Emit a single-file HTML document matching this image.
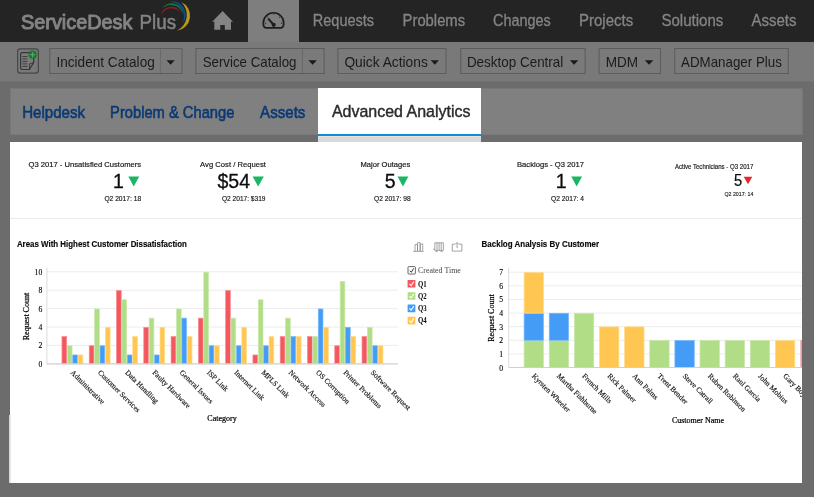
<!DOCTYPE html>
<html><head><meta charset="utf-8"><title>ServiceDesk Plus</title>
<style>
*{box-sizing:border-box;margin:0;padding:0}
html,body{width:814px;height:497px;overflow:hidden;background:#6c6c6c;font-family:"Liberation Sans",sans-serif}
#root{position:relative;width:814px;height:497px;overflow:hidden;background:#6c6c6c}
.abs{position:absolute}
#topbar{left:0;top:0;width:814px;height:41.6px;background:#242424}
#dashtab{left:248px;top:0;width:51px;height:42px;background:#7e7e7e}
#toolbar{left:0;top:41.6px;width:814px;height:40.6px;background:#797979;border-bottom:1px solid #727272}
#gap{display:none}
#tabs{left:10.4px;top:87.6px;width:792.6px;height:47.5px;background:#808080;border:1px solid #777;border-bottom:1.5px solid #797979}
#atab{left:317.8px;top:88px;width:163.4px;height:54px;background:#d9d9d9}
#atabw{left:317.8px;top:87.6px;width:163.4px;height:46.4px;background:#fff;border-bottom:0}
#atabl{left:317.8px;top:133.6px;width:163.4px;height:2.2px;background:#0d8edb;box-shadow:0 1px 0 #eee0da}
#panel{left:9.8px;top:141.6px;width:792.2px;height:341.4px;background:#fff}
#pstrip{left:9px;top:415px;width:1.8px;height:68px;background:linear-gradient(90deg,#cfcfcf,#f2f2f2)}
svg text{font-family:"Liberation Serif",serif}
svg text.s{font-family:"Liberation Sans",sans-serif}
.ax{font-size:7.7px;fill:#000;stroke:#000;stroke-width:0.12px}
.at{font-size:8px;fill:#000;stroke:#000;stroke-width:0.22px}
.xl{font-size:7.5px;fill:#111;stroke:#111;stroke-width:0.15px}
.lg{font-size:8.2px;fill:#222}
.ct{font-family:"Liberation Sans",sans-serif !important;font-weight:bold;font-size:8.4px;fill:#0a0a0a;stroke:#0a0a0a;stroke-width:0.15px}
</style></head><body>
<div id="root">
<div id="topbar" class="abs"></div>
<div id="dashtab" class="abs"></div>
<div id="toolbar" class="abs"></div>
<div id="gap" class="abs"></div>
<div id="tabs" class="abs"></div>
<div id="atab" class="abs"></div>
<div id="atabw" class="abs"></div>
<div id="atabl" class="abs"></div>
<div id="panel" class="abs"></div>
<div id="pstrip" class="abs"></div>
<div class="abs" style="left:10px;top:218px;width:792px;height:1px;background:#ececec"></div>

<svg class="abs" style="left:0;top:0;will-change:transform" width="814" height="497" viewBox="0 0 814 497">
<!-- logo swoosh -->
<path d="M160.6 15.8 A10.6 10.6 0 0 1 180.5 12.6 A11.8 11.8 0 0 0 160.6 15.8 Z" fill="#90192b"/>
<path d="M162.1 8.8 A11.1 11.1 0 0 1 182.8 14.8 A12.1 12.1 0 0 0 162.1 8.8 Z" fill="#0f7a3c"/>
<path d="M169.9 1.4 A13.6 13.6 0 0 1 182.6 23.4 A15.6 15.6 0 0 0 169.9 1.4 Z" fill="#0f4c8c"/>
<path d="M181.2 2 A15.1 15.1 0 0 1 177 30.7 A17.6 17.6 0 0 0 181.2 2 Z" fill="#b99b1c"/>
<!-- home -->
<path d="M222.6 11 L212.2 21.7 H214.3 V29.7 H220.3 V25 H224.8 V29.7 H231 V21.7 H233 Z" fill="#848484"/>
<!-- gauge -->
<path d="M265.4 27.8 Q263.1 26.6 263.3 22.95 A10.2 10.2 0 0 1 283.7 22.95 Q283.9 26.6 281.6 27.8 Z" fill="none" stroke="#1d1d1d" stroke-width="1.7" stroke-linejoin="round"/>
<path d="M268.2 18.7 L273.4 24.5" stroke="#1d1d1d" stroke-width="2" fill="none"/>
<circle cx="273.7" cy="24.8" r="2.1" fill="#1d1d1d"/>
<g fill="#2a2a2a"><circle cx="265.8" cy="23.2" r="0.6"/><circle cx="267.6" cy="17" r="0.6"/><circle cx="273.7" cy="14" r="0.6"/><circle cx="279.6" cy="17.2" r="0.6"/><circle cx="281.5" cy="23.2" r="0.6"/></g>
<!-- new-request icon -->
<rect x="17.6" y="48.8" width="20.8" height="24.3" rx="2.6" fill="#797979" stroke="#474747" stroke-width="1.2"/>
<path d="M22.3 52.6 H31.5 Q33.7 52.6 33.7 54.8 V62.4 L29.4 69.5 H22.3 Q20.6 69.5 20.6 67.6 V54.4 Q20.6 52.6 22.3 52.6 Z" fill="#7c7c7c" stroke="#363636" stroke-width="1.2" stroke-linejoin="round"/>
<path d="M33.5 62.6 L29.6 63.8 L29.4 69.2" fill="none" stroke="#363636" stroke-width="0.9"/>
<path d="M22.4 56.5 h5 M22.4 58.9 h5 M22.4 61.4 h5 M22.4 63.9 h5 M22.4 66.4 h5" stroke="#3d3d3d" stroke-width="1"/>
<circle cx="32.6" cy="54.7" r="4.1" fill="#17792d"/>
<path d="M32.6 52 v5.4 M29.9 54.7 h5.4" stroke="#4ea562" stroke-width="1.3"/>
<!-- buttons -->
<rect x="49.8" y="48.5" width="132.2" height="25" fill="#7a7a7a" stroke="#5c5c5c" stroke-width="1"/><line x1="160.4" y1="49" x2="160.4" y2="73" stroke="#686868" stroke-width="1"/><path d="M166.5 60.2 H174.7 L170.60 64.7 Z" fill="#1b1b1b"/>
<rect x="195.9" y="48.5" width="128.20000000000002" height="25" fill="#7a7a7a" stroke="#5c5c5c" stroke-width="1"/><line x1="302.5" y1="49" x2="302.5" y2="73" stroke="#686868" stroke-width="1"/><path d="M308.4 60.2 H316.8 L312.60 64.7 Z" fill="#1b1b1b"/>
<rect x="337.9" y="48.5" width="108.10000000000002" height="25" fill="#7a7a7a" stroke="#5c5c5c" stroke-width="1"/><path d="M430.7 60.2 H438.9 L434.80 64.7 Z" fill="#1b1b1b"/>
<rect x="460.8" y="48.5" width="124.30000000000001" height="25" fill="#7a7a7a" stroke="#5c5c5c" stroke-width="1"/><path d="M569.9 60.2 H578.3 L574.10 64.7 Z" fill="#1b1b1b"/>
<rect x="599.1" y="48.5" width="61.39999999999998" height="25" fill="#7a7a7a" stroke="#5c5c5c" stroke-width="1"/><path d="M644.8 60.2 H653.3 L649.05 64.7 Z" fill="#1b1b1b"/>
<rect x="674.7" y="48.5" width="113.5" height="25" fill="#7a7a7a" stroke="#5c5c5c" stroke-width="1"/>
<text x="21.00" y="28.70" font-size="20.6" fill="#848484" textLength="111.40" lengthAdjust="spacingAndGlyphs" class="s" stroke="#848484" stroke-width="1.0" stroke-linejoin="round">ServiceDesk</text>
<text x="139.60" y="28.70" font-size="20.6" fill="#848484" textLength="36.50" lengthAdjust="spacingAndGlyphs" class="s" stroke="#848484" stroke-width="0.5">Plus</text>
<text x="312.80" y="25.60" font-size="16" fill="#858585" textLength="61.30" lengthAdjust="spacingAndGlyphs" class="s" stroke="#858585" stroke-width="0.3">Requests</text>
<text x="402.60" y="25.60" font-size="16" fill="#858585" textLength="62.50" lengthAdjust="spacingAndGlyphs" class="s" stroke="#858585" stroke-width="0.3">Problems</text>
<text x="493.00" y="25.60" font-size="16" fill="#858585" textLength="57.80" lengthAdjust="spacingAndGlyphs" class="s" stroke="#858585" stroke-width="0.3">Changes</text>
<text x="579.00" y="25.60" font-size="16" fill="#858585" textLength="54.20" lengthAdjust="spacingAndGlyphs" class="s" stroke="#858585" stroke-width="0.3">Projects</text>
<text x="661.40" y="25.60" font-size="16" fill="#858585" textLength="61.90" lengthAdjust="spacingAndGlyphs" class="s" stroke="#858585" stroke-width="0.3">Solutions</text>
<text x="751.40" y="25.60" font-size="16" fill="#858585" textLength="45.10" lengthAdjust="spacingAndGlyphs" class="s" stroke="#858585" stroke-width="0.3">Assets</text>
<text x="56.40" y="66.60" font-size="14.5" fill="#1b1b1b" textLength="98.40" lengthAdjust="spacingAndGlyphs" class="s" >Incident Catalog</text>
<text x="202.70" y="66.60" font-size="14.5" fill="#1b1b1b" textLength="93.80" lengthAdjust="spacingAndGlyphs" class="s" >Service Catalog</text>
<text x="344.40" y="66.60" font-size="14.5" fill="#1b1b1b" textLength="83.40" lengthAdjust="spacingAndGlyphs" class="s" >Quick Actions</text>
<text x="466.90" y="66.60" font-size="14.5" fill="#1b1b1b" textLength="96.40" lengthAdjust="spacingAndGlyphs" class="s" >Desktop Central</text>
<text x="605.70" y="66.60" font-size="14.5" fill="#1b1b1b" textLength="32.40" lengthAdjust="spacingAndGlyphs" class="s" >MDM</text>
<text x="681.10" y="66.60" font-size="14.5" fill="#1b1b1b" textLength="100.70" lengthAdjust="spacingAndGlyphs" class="s" >ADManager Plus</text>
<text x="22.20" y="117.60" font-size="16.4" fill="#0b3974" textLength="62.90" lengthAdjust="spacingAndGlyphs" class="s" stroke="#0b3974" stroke-width="0.6">Helpdesk</text>
<text x="110.10" y="117.60" font-size="16.4" fill="#0b3974" textLength="124.30" lengthAdjust="spacingAndGlyphs" class="s" stroke="#0b3974" stroke-width="0.6">Problem &amp; Change</text>
<text x="260.10" y="117.60" font-size="16.4" fill="#0b3974" textLength="45.30" lengthAdjust="spacingAndGlyphs" class="s" stroke="#0b3974" stroke-width="0.6">Assets</text>
<text x="331.90" y="116.80" font-size="16.3" fill="#2a2a2a" textLength="138.60" lengthAdjust="spacingAndGlyphs" class="s" stroke="#2a2a2a" stroke-width="0.4">Advanced Analytics</text>
<defs><clipPath id="cp"><rect x="9" y="141" width="793" height="342"/></clipPath></defs>
<g clip-path="url(#cp)">
<text x="28.50" y="166.80" font-size="7.7" fill="#151515" textLength="112.60" lengthAdjust="spacingAndGlyphs" class="s" stroke="#151515" stroke-width="0.18">Q3 2017 - Unsatisfied Customers</text>
<text transform="translate(123.90,188.30) scale(0.94,1)" text-anchor="end" font-size="20.8" fill="#0c0c0c" class="s" stroke="#0c0c0c" stroke-width="0.3">1</text>
<text x="104.40" y="201.40" font-size="7.0" fill="#151515" textLength="36.70" lengthAdjust="spacingAndGlyphs" class="s" stroke="#151515" stroke-width="0.15">Q2 2017: 18</text>
<path d="M128.3 176.4 H139.2 L133.75 186.4 Z" fill="#19b763"/>
<text x="200.10" y="166.80" font-size="7.7" fill="#151515" textLength="65.80" lengthAdjust="spacingAndGlyphs" class="s" stroke="#151515" stroke-width="0.18">Avg Cost / Request</text>
<text transform="translate(250.10,188.30) scale(0.94,1)" text-anchor="end" font-size="20.8" fill="#0c0c0c" class="s" stroke="#0c0c0c" stroke-width="0.3">$54</text>
<text x="222.00" y="201.40" font-size="7.0" fill="#151515" textLength="43.50" lengthAdjust="spacingAndGlyphs" class="s" stroke="#151515" stroke-width="0.15">Q2 2017: $319</text>
<path d="M252.6 176.4 H263.8 L258.20 186.4 Z" fill="#19b763"/>
<text x="360.50" y="166.80" font-size="7.7" fill="#151515" textLength="49.80" lengthAdjust="spacingAndGlyphs" class="s" stroke="#151515" stroke-width="0.18">Major Outages</text>
<text transform="translate(395.50,188.30) scale(0.94,1)" text-anchor="end" font-size="20.8" fill="#0c0c0c" class="s" stroke="#0c0c0c" stroke-width="0.3">5</text>
<text x="374.00" y="201.40" font-size="7.0" fill="#151515" textLength="36.60" lengthAdjust="spacingAndGlyphs" class="s" stroke="#151515" stroke-width="0.15">Q2 2017: 98</text>
<path d="M397.5 176.4 H408.4 L402.95 186.4 Z" fill="#19b763"/>
<text x="517.00" y="166.80" font-size="7.7" fill="#151515" textLength="67.00" lengthAdjust="spacingAndGlyphs" class="s" stroke="#151515" stroke-width="0.18">Backlogs - Q3 2017</text>
<text transform="translate(566.70,188.30) scale(0.94,1)" text-anchor="end" font-size="20.8" fill="#0c0c0c" class="s" stroke="#0c0c0c" stroke-width="0.3">1</text>
<text x="551.10" y="201.40" font-size="7.0" fill="#151515" textLength="32.90" lengthAdjust="spacingAndGlyphs" class="s" stroke="#151515" stroke-width="0.15">Q2 2017: 4</text>
<path d="M571.2 176.4 H582.1 L576.65 186.4 Z" fill="#19b763"/>
<text x="674.90" y="168.80" font-size="6.4" fill="#151515" textLength="78.40" lengthAdjust="spacingAndGlyphs" class="s" stroke="#151515" stroke-width="0.15">Active Technicians - Q3 2017</text>
<text transform="translate(742.20,185.50) scale(0.94,1)" text-anchor="end" font-size="15.6" fill="#0c0c0c" class="s" stroke="#0c0c0c" stroke-width="0.25">5</text>
<text x="724.40" y="196.30" font-size="5.3" fill="#151515" textLength="29.00" lengthAdjust="spacingAndGlyphs" class="s" stroke="#151515" stroke-width="0.12">Q2 2017: 14</text>
<path d="M743.7 176.8 H752.3 L748.00 184.3 Z" fill="#e6262d"/>
<text x="16.9" y="246.7" class="ct" textLength="170" lengthAdjust="spacingAndGlyphs">Areas With Highest Customer Dissatisfaction</text>
<text x="481.6" y="246.7" class="ct" textLength="117.5" lengthAdjust="spacingAndGlyphs">Backlog Analysis By Customer</text>
<g stroke="#8c8c8c" stroke-width="0.8" fill="none">
<path d="M413.2 251.4 h10.4 M415 251 v-6.4 h2.5 v6.4 M417.5 251 v-8.3 h2.7 v8.3 M420.2 251 v-7 h2.5 v7"/>
<path d="M433.2 249.2 h1.6 M434.8 242.8 h8.6 v7.6 h-8.6 z M437 242.8 v7.6 M439.1 242.8 v7.6 M441.2 242.8 v7.6 M435.5 251.6 h2 M440.5 251.6 h2"/>
<path d="M455.3 244.2 h-3 v6.9 h9.6 v-6.9 h-3 M457.1 248 v-5.2 M455.6 244 l1.5 -1.5 l1.5 1.5"/>
</g>
<rect x="408" y="266.6" width="7.4" height="7.4" rx="0.8" fill="#fff" stroke="#444" stroke-width="0.8"/>
<path d="M409.8 270.6 l1.5 1.7 l2.4 -3.9" fill="none" stroke="#222" stroke-width="0.9"/>
<text x="418" y="273.2" class="lg" style="fill:#444" textLength="42.8" lengthAdjust="spacingAndGlyphs">Created Time</text>
<rect x="407.6" y="279.90" width="7.8" height="7.7" rx="0.6" fill="#f5575f"/>
<path d="M409.4 283.90 l1.7 1.8 l2.7 -4.1" fill="none" stroke="#fff" stroke-width="1.1"/>
<text x="418" y="286.60" class="lg" style="fill:#0a0a0a;font-weight:bold;font-size:7.8px" textLength="8.7" lengthAdjust="spacingAndGlyphs">Q1</text>
<rect x="407.6" y="292.17" width="7.8" height="7.7" rx="0.6" fill="#b1dd87"/>
<path d="M409.4 296.17 l1.7 1.8 l2.7 -4.1" fill="none" stroke="#fff" stroke-width="1.1"/>
<text x="418" y="298.87" class="lg" style="fill:#0a0a0a;font-weight:bold;font-size:7.8px" textLength="8.7" lengthAdjust="spacingAndGlyphs">Q2</text>
<rect x="407.6" y="304.44" width="7.8" height="7.7" rx="0.6" fill="#449cf6"/>
<path d="M409.4 308.44 l1.7 1.8 l2.7 -4.1" fill="none" stroke="#fff" stroke-width="1.1"/>
<text x="418" y="311.14" class="lg" style="fill:#0a0a0a;font-weight:bold;font-size:7.8px" textLength="8.7" lengthAdjust="spacingAndGlyphs">Q3</text>
<rect x="407.6" y="316.71" width="7.8" height="7.7" rx="0.6" fill="#ffc752"/>
<path d="M409.4 320.71 l1.7 1.8 l2.7 -4.1" fill="none" stroke="#fff" stroke-width="1.1"/>
<text x="418" y="323.41" class="lg" style="fill:#0a0a0a;font-weight:bold;font-size:7.8px" textLength="8.7" lengthAdjust="spacingAndGlyphs">Q4</text>
<line x1="46.9" y1="345.4" x2="397.8" y2="345.4" stroke="#ececec" stroke-width="1"/>
<line x1="46.9" y1="327.0" x2="397.8" y2="327.0" stroke="#ececec" stroke-width="1"/>
<line x1="46.9" y1="308.6" x2="397.8" y2="308.6" stroke="#ececec" stroke-width="1"/>
<line x1="46.9" y1="290.2" x2="397.8" y2="290.2" stroke="#ececec" stroke-width="1"/>
<line x1="46.9" y1="271.8" x2="397.8" y2="271.8" stroke="#ececec" stroke-width="1"/>
<line x1="46.9" y1="267.8" x2="46.9" y2="363.8" stroke="#dcdcdc" stroke-width="1"/>
<text x="42.3" y="366.8" text-anchor="end" class="ax">0</text>
<text x="42.3" y="348.4" text-anchor="end" class="ax">2</text>
<text x="42.3" y="330.0" text-anchor="end" class="ax">4</text>
<text x="42.3" y="311.6" text-anchor="end" class="ax">6</text>
<text x="42.3" y="293.2" text-anchor="end" class="ax">8</text>
<text x="42.3" y="274.8" text-anchor="end" class="ax">10</text>
<rect x="61.95" y="336.55" width="4.7" height="27.25" fill="#f5575f" stroke="#f88d94" stroke-width="0.7"/>
<rect x="67.35" y="345.75" width="4.7" height="18.05" fill="#b1dd87" stroke="#c9e8ab" stroke-width="0.7"/>
<rect x="72.75" y="354.95" width="4.7" height="8.85" fill="#449cf6" stroke="#7bbaf9" stroke-width="0.7"/>
<rect x="78.15" y="354.95" width="4.7" height="8.85" fill="#ffc752" stroke="#ffdb8e" stroke-width="0.7"/>
<text transform="translate(70.1,372.9) rotate(45)" class="xl">Administrative</text>
<rect x="89.23" y="345.75" width="4.7" height="18.05" fill="#f5575f" stroke="#f88d94" stroke-width="0.7"/>
<rect x="94.63" y="308.95" width="4.7" height="54.85" fill="#b1dd87" stroke="#c9e8ab" stroke-width="0.7"/>
<rect x="100.03" y="345.75" width="4.7" height="18.05" fill="#449cf6" stroke="#7bbaf9" stroke-width="0.7"/>
<rect x="105.43" y="327.35" width="4.7" height="36.45" fill="#ffc752" stroke="#ffdb8e" stroke-width="0.7"/>
<text transform="translate(97.4,372.9) rotate(45)" class="xl">Customer Services</text>
<rect x="116.51" y="290.55" width="4.7" height="73.25" fill="#f5575f" stroke="#f88d94" stroke-width="0.7"/>
<rect x="121.91" y="299.75" width="4.7" height="64.05" fill="#b1dd87" stroke="#c9e8ab" stroke-width="0.7"/>
<rect x="127.31" y="354.95" width="4.7" height="8.85" fill="#449cf6" stroke="#7bbaf9" stroke-width="0.7"/>
<rect x="132.71" y="336.55" width="4.7" height="27.25" fill="#ffc752" stroke="#ffdb8e" stroke-width="0.7"/>
<text transform="translate(124.7,372.9) rotate(45)" class="xl">Data Handling</text>
<rect x="143.79" y="327.35" width="4.7" height="36.45" fill="#f5575f" stroke="#f88d94" stroke-width="0.7"/>
<rect x="149.19" y="318.15" width="4.7" height="45.65" fill="#b1dd87" stroke="#c9e8ab" stroke-width="0.7"/>
<rect x="154.59" y="354.95" width="4.7" height="8.85" fill="#449cf6" stroke="#7bbaf9" stroke-width="0.7"/>
<rect x="159.99" y="327.35" width="4.7" height="36.45" fill="#ffc752" stroke="#ffdb8e" stroke-width="0.7"/>
<text transform="translate(151.9,372.9) rotate(45)" class="xl">Faulty Hardware</text>
<rect x="171.07" y="336.55" width="4.7" height="27.25" fill="#f5575f" stroke="#f88d94" stroke-width="0.7"/>
<rect x="176.47" y="308.95" width="4.7" height="54.85" fill="#b1dd87" stroke="#c9e8ab" stroke-width="0.7"/>
<rect x="181.87" y="318.15" width="4.7" height="45.65" fill="#449cf6" stroke="#7bbaf9" stroke-width="0.7"/>
<rect x="187.27" y="336.55" width="4.7" height="27.25" fill="#ffc752" stroke="#ffdb8e" stroke-width="0.7"/>
<text transform="translate(179.2,372.9) rotate(45)" class="xl">General Issues</text>
<rect x="198.35" y="318.15" width="4.7" height="45.65" fill="#f5575f" stroke="#f88d94" stroke-width="0.7"/>
<rect x="203.75" y="272.15" width="4.7" height="91.65" fill="#b1dd87" stroke="#c9e8ab" stroke-width="0.7"/>
<rect x="209.15" y="345.75" width="4.7" height="18.05" fill="#449cf6" stroke="#7bbaf9" stroke-width="0.7"/>
<rect x="214.55" y="345.75" width="4.7" height="18.05" fill="#ffc752" stroke="#ffdb8e" stroke-width="0.7"/>
<text transform="translate(206.5,372.9) rotate(45)" class="xl">ISP Link</text>
<rect x="225.63" y="290.55" width="4.7" height="73.25" fill="#f5575f" stroke="#f88d94" stroke-width="0.7"/>
<rect x="231.03" y="318.15" width="4.7" height="45.65" fill="#b1dd87" stroke="#c9e8ab" stroke-width="0.7"/>
<rect x="236.43" y="345.75" width="4.7" height="18.05" fill="#449cf6" stroke="#7bbaf9" stroke-width="0.7"/>
<rect x="241.83" y="327.35" width="4.7" height="36.45" fill="#ffc752" stroke="#ffdb8e" stroke-width="0.7"/>
<text transform="translate(233.8,372.9) rotate(45)" class="xl">Internet Link</text>
<rect x="252.91" y="354.95" width="4.7" height="8.85" fill="#f5575f" stroke="#f88d94" stroke-width="0.7"/>
<rect x="258.31" y="299.75" width="4.7" height="64.05" fill="#b1dd87" stroke="#c9e8ab" stroke-width="0.7"/>
<rect x="263.71" y="345.75" width="4.7" height="18.05" fill="#449cf6" stroke="#7bbaf9" stroke-width="0.7"/>
<rect x="269.11" y="336.55" width="4.7" height="27.25" fill="#ffc752" stroke="#ffdb8e" stroke-width="0.7"/>
<text transform="translate(261.1,372.9) rotate(45)" class="xl">MPLS Link</text>
<rect x="280.19" y="336.55" width="4.7" height="27.25" fill="#f5575f" stroke="#f88d94" stroke-width="0.7"/>
<rect x="285.59" y="318.15" width="4.7" height="45.65" fill="#b1dd87" stroke="#c9e8ab" stroke-width="0.7"/>
<rect x="290.99" y="336.55" width="4.7" height="27.25" fill="#449cf6" stroke="#7bbaf9" stroke-width="0.7"/>
<rect x="296.39" y="336.55" width="4.7" height="27.25" fill="#ffc752" stroke="#ffdb8e" stroke-width="0.7"/>
<text transform="translate(288.3,372.9) rotate(45)" class="xl">Network Access</text>
<rect x="307.47" y="336.55" width="4.7" height="27.25" fill="#f5575f" stroke="#f88d94" stroke-width="0.7"/>
<rect x="312.87" y="336.55" width="4.7" height="27.25" fill="#b1dd87" stroke="#c9e8ab" stroke-width="0.7"/>
<rect x="318.27" y="308.95" width="4.7" height="54.85" fill="#449cf6" stroke="#7bbaf9" stroke-width="0.7"/>
<rect x="323.67" y="327.35" width="4.7" height="36.45" fill="#ffc752" stroke="#ffdb8e" stroke-width="0.7"/>
<text transform="translate(315.6,372.9) rotate(45)" class="xl">OS Corruption</text>
<rect x="334.75" y="345.75" width="4.7" height="18.05" fill="#f5575f" stroke="#f88d94" stroke-width="0.7"/>
<rect x="340.15" y="281.35" width="4.7" height="82.45" fill="#b1dd87" stroke="#c9e8ab" stroke-width="0.7"/>
<rect x="345.55" y="327.35" width="4.7" height="36.45" fill="#449cf6" stroke="#7bbaf9" stroke-width="0.7"/>
<rect x="350.95" y="336.55" width="4.7" height="27.25" fill="#ffc752" stroke="#ffdb8e" stroke-width="0.7"/>
<text transform="translate(342.9,372.9) rotate(45)" class="xl">Printer Problems</text>
<rect x="362.03" y="336.55" width="4.7" height="27.25" fill="#f5575f" stroke="#f88d94" stroke-width="0.7"/>
<rect x="367.43" y="327.35" width="4.7" height="36.45" fill="#b1dd87" stroke="#c9e8ab" stroke-width="0.7"/>
<rect x="372.83" y="345.75" width="4.7" height="18.05" fill="#449cf6" stroke="#7bbaf9" stroke-width="0.7"/>
<rect x="378.23" y="345.75" width="4.7" height="18.05" fill="#ffc752" stroke="#ffdb8e" stroke-width="0.7"/>
<text transform="translate(370.2,372.9) rotate(45)" class="xl">Software Request</text>
<line x1="46.9" y1="363.8" x2="397.8" y2="363.8" stroke="#cfcfcf" stroke-width="1.2"/>
<text transform="translate(29.2,316.5) rotate(-90)" text-anchor="middle" class="at" textLength="47.5" lengthAdjust="spacingAndGlyphs">Request Count</text>
<text x="222" y="421" text-anchor="middle" class="at">Category</text>
<line x1="508.7" y1="353.9" x2="802" y2="353.9" stroke="#ececec" stroke-width="1"/>
<line x1="508.7" y1="340.3" x2="802" y2="340.3" stroke="#ececec" stroke-width="1"/>
<line x1="508.7" y1="326.7" x2="802" y2="326.7" stroke="#ececec" stroke-width="1"/>
<line x1="508.7" y1="313.1" x2="802" y2="313.1" stroke="#ececec" stroke-width="1"/>
<line x1="508.7" y1="299.4" x2="802" y2="299.4" stroke="#ececec" stroke-width="1"/>
<line x1="508.7" y1="285.8" x2="802" y2="285.8" stroke="#ececec" stroke-width="1"/>
<line x1="508.7" y1="272.2" x2="802" y2="272.2" stroke="#ececec" stroke-width="1"/>
<line x1="508.7" y1="267.8" x2="508.7" y2="367.5" stroke="#dcdcdc" stroke-width="1"/>
<text x="503" y="370.5" text-anchor="end" class="ax">0</text>
<text x="503" y="356.9" text-anchor="end" class="ax">1</text>
<text x="503" y="343.3" text-anchor="end" class="ax">2</text>
<text x="503" y="329.7" text-anchor="end" class="ax">3</text>
<text x="503" y="316.1" text-anchor="end" class="ax">4</text>
<text x="503" y="302.4" text-anchor="end" class="ax">5</text>
<text x="503" y="288.8" text-anchor="end" class="ax">6</text>
<text x="503" y="275.2" text-anchor="end" class="ax">7</text>
<rect x="524.10" y="340.48" width="19.400000000000002" height="27.02" fill="#b1dd87" stroke="#c9e8ab" stroke-width="0.7"/>
<rect x="524.10" y="313.26" width="19.400000000000002" height="27.02" fill="#449cf6" stroke="#7bbaf9" stroke-width="0.7"/>
<rect x="524.10" y="272.43" width="19.400000000000002" height="40.63" fill="#ffc752" stroke="#ffdb8e" stroke-width="0.7"/>
<text transform="translate(531.5,376.6) rotate(45)" class="xl">Kyrsten Wheeler</text>
<rect x="549.23" y="340.48" width="19.400000000000002" height="27.02" fill="#b1dd87" stroke="#c9e8ab" stroke-width="0.7"/>
<rect x="549.23" y="313.26" width="19.400000000000002" height="27.02" fill="#449cf6" stroke="#7bbaf9" stroke-width="0.7"/>
<text transform="translate(556.6,376.6) rotate(45)" class="xl">Martha Fishburne</text>
<rect x="574.36" y="313.26" width="19.400000000000002" height="54.24" fill="#b1dd87" stroke="#c9e8ab" stroke-width="0.7"/>
<text transform="translate(581.8,376.6) rotate(45)" class="xl">French Mills</text>
<rect x="599.49" y="326.87" width="19.400000000000002" height="40.63" fill="#ffc752" stroke="#ffdb8e" stroke-width="0.7"/>
<text transform="translate(606.9,376.6) rotate(45)" class="xl">Rick Palmer</text>
<rect x="624.62" y="326.87" width="19.400000000000002" height="40.63" fill="#ffc752" stroke="#ffdb8e" stroke-width="0.7"/>
<text transform="translate(632.0,376.6) rotate(45)" class="xl">Ann Palms</text>
<rect x="649.75" y="340.48" width="19.400000000000002" height="27.02" fill="#b1dd87" stroke="#c9e8ab" stroke-width="0.7"/>
<text transform="translate(657.1,376.6) rotate(45)" class="xl">Trent Bender</text>
<rect x="674.88" y="340.48" width="19.400000000000002" height="27.02" fill="#449cf6" stroke="#7bbaf9" stroke-width="0.7"/>
<text transform="translate(682.3,376.6) rotate(45)" class="xl">Steve Catrall</text>
<rect x="700.01" y="340.48" width="19.400000000000002" height="27.02" fill="#b1dd87" stroke="#c9e8ab" stroke-width="0.7"/>
<text transform="translate(707.4,376.6) rotate(45)" class="xl">Ruben Robinson</text>
<rect x="725.14" y="340.48" width="19.400000000000002" height="27.02" fill="#b1dd87" stroke="#c9e8ab" stroke-width="0.7"/>
<text transform="translate(732.5,376.6) rotate(45)" class="xl">Raul Garcia</text>
<rect x="750.27" y="340.48" width="19.400000000000002" height="27.02" fill="#b1dd87" stroke="#c9e8ab" stroke-width="0.7"/>
<text transform="translate(757.7,376.6) rotate(45)" class="xl">John Mobius</text>
<rect x="775.40" y="340.48" width="19.400000000000002" height="27.02" fill="#ffc752" stroke="#ffdb8e" stroke-width="0.7"/>
<text transform="translate(782.8,376.6) rotate(45)" class="xl">Gary Boyle</text>
<rect x="800.53" y="340.48" width="19.400000000000002" height="27.02" fill="#f7959c" stroke="#f9b5ba" stroke-width="0.7"/>
<text transform="translate(807.9,376.6) rotate(45)" class="xl">Zack Snyder</text>
<line x1="508.7" y1="367.5" x2="802" y2="367.5" stroke="#cfcfcf" stroke-width="1.2"/>
<text transform="translate(494,318) rotate(-90)" text-anchor="middle" class="at" textLength="47.5" lengthAdjust="spacingAndGlyphs">Request Count</text>
<text x="698" y="423" text-anchor="middle" class="at">Customer Name</text>
</g>
</svg>
</div>
</body></html>
